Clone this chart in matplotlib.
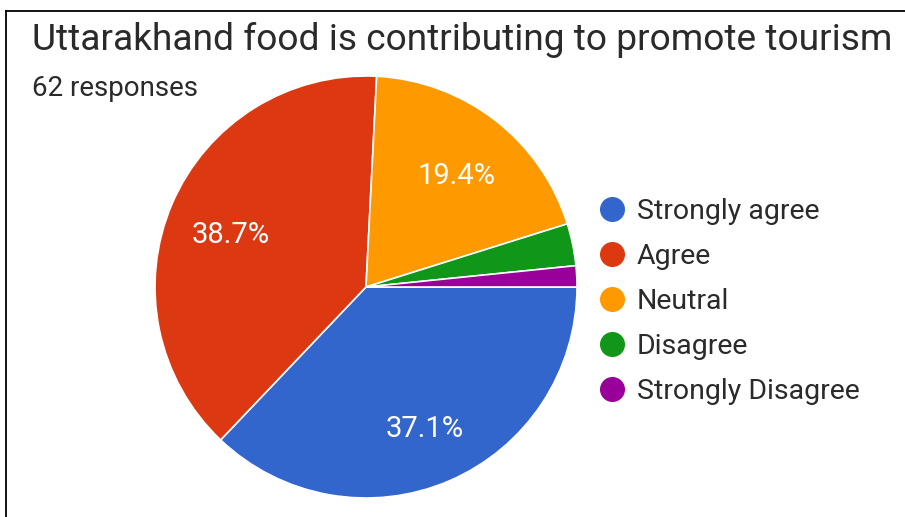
import matplotlib
matplotlib.use("Agg")
import matplotlib.pyplot as plt
from matplotlib.lines import Line2D
from matplotlib.transforms import offset_copy

plt.rcParams['font.family'] = ['Roboto', 'DejaVu Sans']

title = "Uttarakhand food is contributing to promote tourism"
subtitle = "62 responses"
categories = ["Strongly agree", "Agree", "Neutral", "Disagree", "Strongly Disagree"]
counts = [23, 24, 12, 2, 1]
colors = ["#3366CC", "#DC3912", "#FF9900", "#109618", "#990099"]

W, H = 905, 517
fig = plt.figure(figsize=(W / 100, H / 100), dpi=100)
fig.patch.set_facecolor("white")

# frame lines (top and left)
fig.add_artist(Line2D([6 / W, 6 / W], [0, (H - 11) / H], color="black", lw=1.3))
fig.add_artist(Line2D([6 / W, 1], [(H - 11) / H, (H - 11) / H], color="black", lw=1.3))

fig.text(32 / W, (H - 40) / H, title, fontsize=26.7, color="#2a2a2a", va="center", ha="left")
fig.text(32 / W, (H - 89) / H, subtitle, fontsize=20, color="#2a2a2a", va="center", ha="left")

cx, cy, r = 366, 287, 211
ax = fig.add_axes([(cx - r) / W, (H - cy - r) / H, 2 * r / W, 2 * r / H])


def pct(p):
    return f"{p:.1f}%" if p >= 5 else ""


wedges, texts, autotexts = ax.pie(
    counts, colors=colors, startangle=0, counterclock=False, radius=1,
    autopct=pct, pctdistance=0.70,
    wedgeprops=dict(edgecolor="white", linewidth=1.2),
    textprops=dict(color="white", fontsize=21),
)
label_shift = offset_copy(ax.transData, fig=fig, x=0, y=-6, units="dots")
for t in autotexts:
    t.set_transform(label_shift)
ax.set_xlim(-1, 1)
ax.set_ylim(-1, 1)
ax.set_aspect("equal")
ax.axis("off")

handles = [Line2D([], [], marker="o", linestyle="none", markersize=17,
                  markerfacecolor=c, markeredgecolor=c) for c in colors]
leg = fig.legend(handles, categories, loc="upper left",
                 bbox_to_anchor=(598 / W, (H - 198) / H), frameon=False,
                 fontsize=20.5, labelspacing=0.63, handletextpad=0.37,
                 handlelength=1.0, borderaxespad=0, borderpad=0)
for t in leg.get_texts():
    t.set_color("#2a2a2a")

fig.savefig("out.png", dpi=100)
